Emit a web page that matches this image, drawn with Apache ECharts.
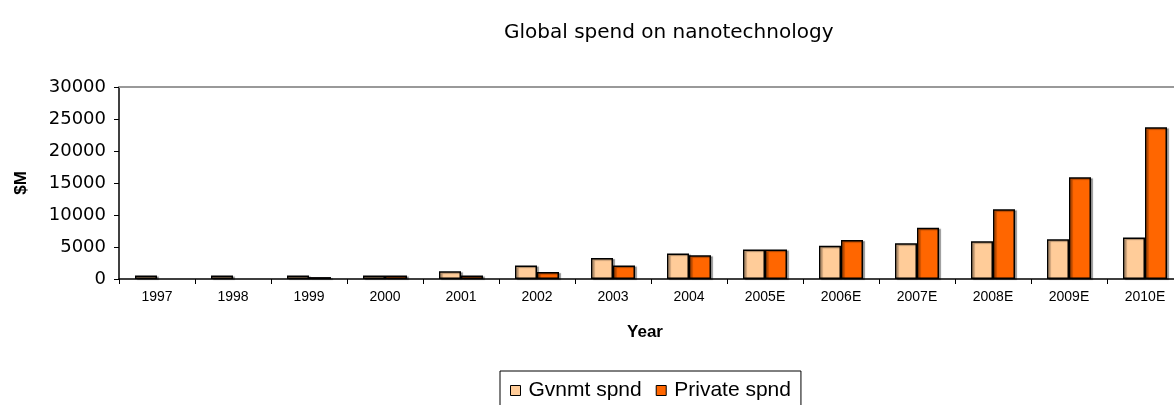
<!DOCTYPE html>
<html>
<head>
<meta charset="utf-8">
<script src="https://cdn.jsdelivr.net/npm/echarts@6/dist/echarts.min.js"></script>
<style>html,body{margin:0;padding:0;background:#fff}#c{width:1174px;height:405px}</style>
</head>
<body>
<div id="c"></div>
<script>
const categories = ['1997','1998','1999','2000','2001','2002','2003','2004','2005E','2006E','2007E','2008E','2009E','2010E'];
const govSpend = [550, 550, 550, 550, 1200, 2100, 3300, 4000, 4600, 5200, 5600, 5900, 6200, 6500];
const privateSpend = [0, 0, 300, 550, 550, 1100, 2100, 3700, 4600, 6100, 8000, 10900, 15900, 23700];
const yTicks = [0, 5000, 10000, 15000, 20000, 25000, 30000];

const chart = echarts.init(document.getElementById('c'));
const barStyle = (color) => ({
  color: color,
  borderColor: '#000',
  borderWidth: 1.5,
  shadowColor: 'rgba(0,0,0,0.35)',
  shadowOffsetX: 2,
  shadowOffsetY: 1,
  shadowBlur: 1
});
// zero values are not drawn as bars in the reference
const asBars = (arr) => arr.map(v => (v === 0 ? null : v));
chart.setOption({
  animation: false,
  title: {
    text: 'Global spend on nanotechnology',
    left: 499, top: 18,
    textStyle: { fontFamily: 'DejaVu Sans', fontSize: 20, fontWeight: 'normal', color: '#000' }
  },
  legend: {
    left: 500, top: 371,
    padding: [9, 10, 14, 10],
    borderColor: '#000', borderWidth: 1,
    itemWidth: 10, itemHeight: 10, itemGap: 14,
    icon: 'rect',
    textStyle: { fontFamily: 'Liberation Sans', fontSize: 21, color: '#000', padding: [0, 0, 0, 3] },
    data: [
      { name: 'Gvnmt spnd', itemStyle: { color: '#FFCC99', borderColor: '#000', borderWidth: 1 } },
      { name: 'Private spnd', itemStyle: { color: '#FF6600', borderColor: '#000', borderWidth: 1 } }
    ]
  },
  grid: { left: 119, width: 1064, top: 87, height: 192, containLabel: false, outerBoundsMode: 'none' },
  xAxis: [{
    type: 'category',
    data: categories,
    name: 'Year',
    nameLocation: 'middle',
    nameGap: 45,
    nameTextStyle: { fontFamily: 'Liberation Sans', fontSize: 17, fontWeight: 'bold', color: '#000', padding: [0, 12, 0, 0] },
    axisLine: { lineStyle: { color: '#000', width: 1.5 } },
    axisTick: { show: true, length: 5, lineStyle: { color: '#000' } },
    axisLabel: { fontFamily: 'Liberation Sans', fontSize: 14, color: '#000', margin: 11, interval: 0 }
  }, {
    type: 'category',
    data: categories,
    position: 'top',
    axisLine: { lineStyle: { color: '#999', width: 2 } },
    axisTick: { show: false },
    axisLabel: { show: false }
  }],
  yAxis: {
    type: 'value',
    min: yTicks[0], max: yTicks[yTicks.length - 1], interval: 5000,
    name: '$M',
    nameLocation: 'middle',
    nameGap: 89,
    nameRotate: 90,
    nameTextStyle: { fontFamily: 'Liberation Sans', fontSize: 17, fontWeight: 'bold', color: '#000' },
    axisLine: { show: true, lineStyle: { color: '#000', width: 1.5 } },
    axisTick: { show: true, length: 5, lineStyle: { color: '#000' } },
    axisLabel: { fontFamily: 'DejaVu Sans', fontSize: 18, color: '#000', margin: 13, formatter: (v) => String(v) },
    splitLine: { show: false }
  },
  series: [
    { name: 'Gvnmt spnd', type: 'bar', data: asBars(govSpend), barGap: '0%', barWidth: 22, itemStyle: barStyle('#FFCC99') },
    { name: 'Private spnd', type: 'bar', data: asBars(privateSpend), barGap: '0%', barWidth: 22, itemStyle: barStyle('#FF6600') }
  ]
});
</script>
</body>
</html>
